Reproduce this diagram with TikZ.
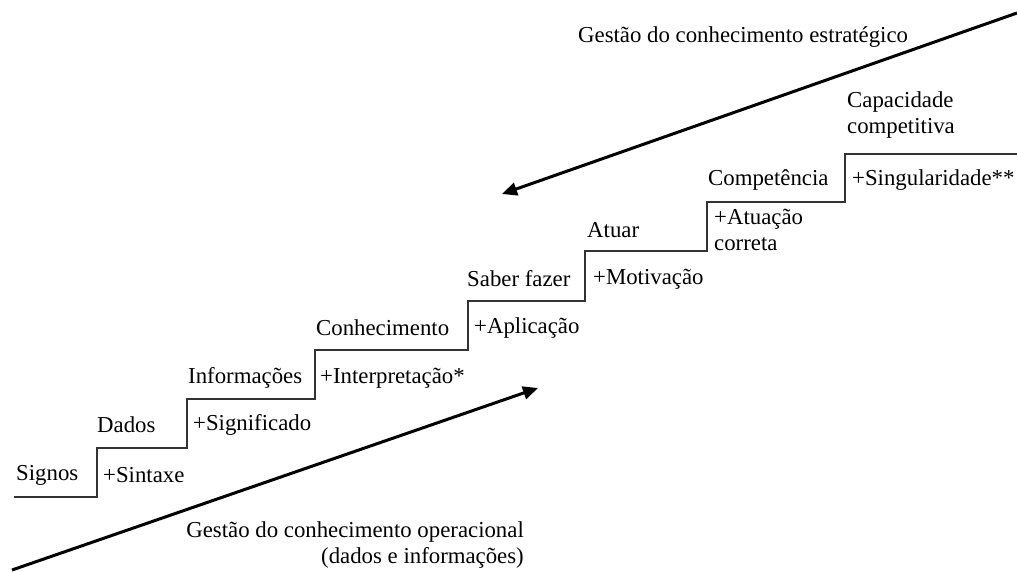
\documentclass[tikz,border=0pt]{standalone}
\usepackage{fontspec}
\setmainfont{Liberation Serif}
\usetikzlibrary{arrows.meta}
\begin{document}
\begin{tikzpicture}[x=1pt,y=-1pt,
  lbl/.style={inner sep=0pt,anchor=west,font=\fontsize{22.8}{26}\selectfont,align=left},
  stair/.style={draw=black!80,line width=1.5pt},
  bigarrow/.style={draw=black,line width=3pt,-{Triangle[length=15pt,width=13pt]}}]
\useasboundingbox (0,0) rectangle (1017,571);
% staircase
\draw[stair] (14,497) -- (97,497) -- (97,448) -- (187,448) -- (187,399) -- (315,399)
  -- (315,350) -- (468,350) -- (468,301) -- (585,301) -- (585,251) -- (707,251)
  -- (707,202) -- (845,202) -- (845,154) -- (1017,154);
% arrows
\coordinate (lowS) at (12,570);
\coordinate (lowE) at (538,388);
\coordinate (upS) at (1017,13);
\coordinate (upE) at (502,194);
\draw[bigarrow] (lowS) -- (lowE);
\draw[bigarrow] (upS) -- (upE);
% labels
\node[lbl] (est) at (578,37) {Gestão do conhecimento estratégico};
\node[lbl] (cap) at (847,115) {Capacidade\\competitiva};
\node[lbl] (comp) at (708,180) {Competência};
\node[lbl] (sing) at (852,180) {+Singularidade**};
\node[lbl] (atc) at (714,230) {+Atuação\\correta};
\node[lbl] (atuar) at (587,230) {Atuar};
\node[lbl] (saber) at (467,279) {Saber fazer};
\node[lbl] (motiv) at (593,279) {+Motivação};
\node[lbl] (conh) at (316,328) {Conhecimento};
\node[lbl] (apl) at (474,328) {+Aplicação};
\node[lbl] (info) at (188,378) {Informações};
\node[lbl] (interp) at (320,378) {+Interpretação*};
\node[lbl] (dados) at (97,425) {Dados};
\node[lbl] (signif) at (193,425) {+Significado};
\node[lbl] (signos) at (16,475) {Signos};
\node[lbl] (sint) at (103,475) {+Sintaxe};
\node[lbl,anchor=east,align=right] (oper) at (524,545) {Gestão do conhecimento operacional\\(dados e informações)};
\end{tikzpicture}
\end{document}
